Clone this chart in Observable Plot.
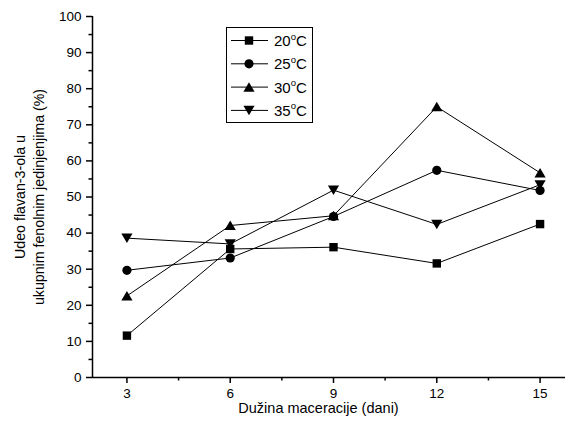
<!DOCTYPE html>
<html>
<head>
<meta charset="utf-8">
<script src="https://cdn.jsdelivr.net/npm/d3@7"></script>
<script src="https://cdn.jsdelivr.net/npm/@observablehq/plot@0.6"></script>
<style>
  html, body { margin: 0; padding: 0; background: #fff; }
  #chart { width: 565px; height: 430px; }
</style>
</head>
<body>
<div id="chart"></div>
<script>
const days = [3, 6, 9, 12, 15];
const seriesNames = ["20°C", "25°C", "30°C", "35°C"];
const v20 = [11.6, 35.6, 36.1, 31.6, 42.5];
const v25 = [29.7, 33.1, 44.6, 57.4, 51.8];
const v30 = [22.6, 42.1, 44.8, 75.0, 56.7];
const v35 = [38.6, 37.0, 51.9, 42.4, 53.4];
const xTicks = [3, 6, 9, 12, 15];
const xMinor = [4.5, 7.5, 10.5, 13.5];
const yTicks = [0, 10, 20, 30, 40, 50, 60, 70, 80, 90, 100];
const yMinor = [5, 15, 25, 35, 45, 55, 65, 75, 85, 95];
const yLabel = "Udeo flavan-3-ola u\nukupnim fenolnim jedinjenjima (%)";
const xLabel = "Dužina maceracije (dani)";

const allValues = [v20, v25, v30, v35];
const data = [];
seriesNames.forEach((s, i) => days.forEach((d, j) => data.push({series: s, day: d, value: allValues[i][j]})));

// custom marker shapes
const symSquare = {draw(c) { const h = 4.2; c.moveTo(-h, -h); c.lineTo(h, -h); c.lineTo(h, h); c.lineTo(-h, h); c.closePath(); }};
const symCircle = {draw(c) { const r = 4.6; c.moveTo(r, 0); c.arc(0, 0, r, 0, 2 * Math.PI); c.closePath(); }};
const symUp = {draw(c) { c.moveTo(0, -4.9); c.lineTo(5.6, 4.6); c.lineTo(-5.6, 4.6); c.closePath(); }};
const symDown = {draw(c) { c.moveTo(0, 4.9); c.lineTo(5.6, -4.6); c.lineTo(-5.6, -4.6); c.closePath(); }};
const symbols = [symSquare, symCircle, symUp, symDown];

const font = "'Liberation Sans', Arial, sans-serif";

const plot = Plot.plot({
  width: 565,
  height: 430,
  marginLeft: 92,
  marginRight: 21,
  marginTop: 16,
  marginBottom: 53,
  style: {fontFamily: font, fontSize: "13px", background: "#fff", color: "#000"},
  x: {domain: [2, 16], range: [92, 574]},
  y: {domain: [0, 100]},
  symbol: {domain: seriesNames, range: symbols},
  marks: [
    Plot.axisY({ticks: yTicks, tickSize: 6, tickPadding: 5, strokeWidth: 1.5, label: null, fontSize: 13.5}),
    Plot.axisY({ticks: yMinor, tickSize: 3.5, tickFormat: () => "", strokeWidth: 1.5, label: null}),
    Plot.axisX({ticks: xTicks, tickSize: 6, tickPadding: 5, strokeWidth: 1.5, label: null, fontSize: 13.5}),
    Plot.axisX({ticks: xMinor, tickSize: 3.5, tickFormat: () => "", strokeWidth: 1.5, label: null}),
    Plot.ruleY([0], {x1: 2, x2: 16, stroke: "#000", strokeWidth: 1.5}),
    Plot.ruleX([2], {y1: 0, y2: 100, stroke: "#000", strokeWidth: 1.5}),
    Plot.line(data, {x: "day", y: "value", z: "series", stroke: "#000", strokeWidth: 1}),
    Plot.dot(data, {x: "day", y: "value", symbol: "series", fill: "#000", stroke: "none", r: 4.5}),
    Plot.text([yLabel], {frameAnchor: "left", textAnchor: "middle", lineAnchor: "middle", rotate: -90, dx: -64.5, fontSize: 14.2, lineHeight: 1.36, fill: "#000"}),
    Plot.text([xLabel], {frameAnchor: "bottom", textAnchor: "middle", lineAnchor: "middle", dy: 31, fontSize: 14.5, fill: "#000"})
  ]
});

document.getElementById("chart").appendChild(plot);

// legend box inside the plot
const svg = d3.select(plot);
const lg = svg.append("g").attr("font-family", font).attr("font-size", 15).attr("text-anchor", "start");
lg.append("rect").attr("x", 226.5).attr("y", 27.5).attr("width", 86).attr("height", 95)
  .attr("fill", "#fff").attr("stroke", "#000").attr("stroke-width", 1);
seriesNames.forEach((s, i) => {
  const yy = 40.5 + i * 23.3;
  lg.append("line").attr("x1", 231).attr("x2", 268).attr("y1", yy).attr("y2", yy)
    .attr("stroke", "#000").attr("stroke-width", 1);
  lg.append("path").attr("d", d3.symbol(symbols[i])()).attr("transform", `translate(249,${yy})`).attr("fill", "#000");
  const t = lg.append("text").attr("x", 274).attr("y", yy + 5.5).attr("fill", "#000").attr("text-anchor", "start");
  t.append("tspan").text(s.replace("°C", ""));
  t.append("tspan").attr("font-size", 9.5).attr("dy", -6.5).text("o");
  t.append("tspan").attr("dy", 6.5).text("C");
});
</script>
</body>
</html>
